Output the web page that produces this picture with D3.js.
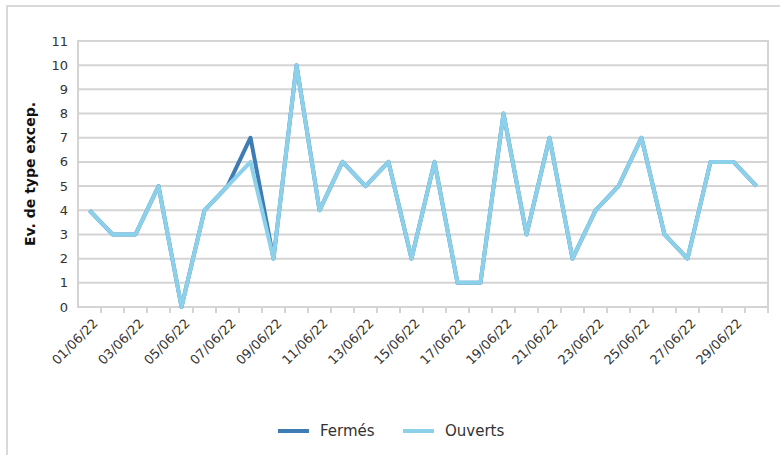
<!DOCTYPE html>
<html>
  <head>
    <meta charset="utf-8">
    <title>Ev. de type excep.</title>
    <script src="https://d3js.org/d3.v7.min.js" charset="utf-8"></script>
    <style>
    body {
        margin: 0;
        background: white;
        font-family: "DejaVu Sans", sans-serif;
    }
    </style>
  </head>

  <body>
    <script>
// data
var dates = ["01/06/22","02/06/22","03/06/22","04/06/22","05/06/22","06/06/22","07/06/22","08/06/22",
  "09/06/22","10/06/22","11/06/22","12/06/22","13/06/22","14/06/22","15/06/22","16/06/22","17/06/22",
  "18/06/22","19/06/22","20/06/22","21/06/22","22/06/22","23/06/22","24/06/22","25/06/22","26/06/22",
  "27/06/22","28/06/22","29/06/22","30/06/22"];
var fermes  = [4,3,3,5,0,4,5,7,2,10,4,6,5,6,2,6,1,1,8,3,7,2,4,5,7,3,2,6,6,5];
var ouverts = [4,3,3,5,0,4,5,6,2,10,4,6,5,6,2,6,1,1,8,3,7,2,4,5,7,3,2,6,6,5];
var yTicks = d3.range(0, 12);
var seriesNames = ["Fermés", "Ouverts"];
var seriesColors = ["#3f7cb3", "#8dd0ea"];

var width = 780;
var height = 455;
var margin = {top: 41, right: 12, bottom: 148, left: 78};

var svg = d3.select("body")
  .append("svg")
  .attr("width", width)
  .attr("height", height);

// outer frame (cut off at right and bottom)
svg.append("path")
  .attr("d", "M7,470 L7,6 L790,6")
  .attr("fill", "none")
  .attr("stroke", "#d9d9d9")
  .attr("stroke-width", 2);

var x = d3.scaleBand()
  .domain(dates)
  .range([margin.left, width - margin.right]);

var y = d3.scaleLinear()
  .domain([0, 11])
  .range([height - margin.bottom, margin.top]);

var g = svg.append("g");

// gridlines
g.selectAll("line.grid")
  .data(yTicks)
  .enter()
  .append("line")
  .attr("class", "grid")
  .attr("x1", margin.left)
  .attr("x2", width - margin.right)
  .attr("y1", d => y(d))
  .attr("y2", d => y(d))
  .attr("stroke", "#d4d4d4")
  .attr("stroke-width", 2);

// plot border
g.append("rect")
  .attr("x", margin.left)
  .attr("y", y(11))
  .attr("width", width - margin.right - margin.left)
  .attr("height", y(0) - y(11))
  .attr("fill", "none")
  .attr("stroke", "#d4d4d4")
  .attr("stroke-width", 2);

// x tick marks at band edges
var edges = dates.map(d => x(d)).concat([width - margin.right]);
g.selectAll("line.xtick")
  .data(edges.slice(1))
  .enter()
  .append("line")
  .attr("class", "xtick")
  .attr("x1", d => d)
  .attr("x2", d => d)
  .attr("y1", y(0))
  .attr("y2", y(0) + 6)
  .attr("stroke", "#d4d4d4")
  .attr("stroke-width", 2);

// y labels
g.selectAll("text.ylab")
  .data(yTicks)
  .enter()
  .append("text")
  .attr("class", "ylab")
  .attr("x", margin.left - 10)
  .attr("y", d => y(d))
  .attr("dy", "0.35em")
  .attr("text-anchor", "end")
  .attr("font-size", 13)
  .attr("fill", "#333")
  .text(d => d);

// x labels, every other day
g.selectAll("text.xlab")
  .data(dates.filter((d, i) => i % 2 === 0))
  .enter()
  .append("text")
  .attr("class", "xlab")
  .attr("transform", d => "translate(" + (x(d) + x.bandwidth() / 2 + 6) + "," + (y(0) + 14) + ") rotate(-45)")
  .attr("text-anchor", "end")
  .attr("dy", "0.35em")
  .attr("font-size", 13)
  .attr("fill", "#333")
  .text(d => d);

// y axis title
svg.append("text")
  .attr("transform", "translate(35," + ((y(0) + y(11)) / 2) + ") rotate(-90)")
  .attr("text-anchor", "middle")
  .attr("font-size", 14)
  .attr("font-weight", "bold")
  .attr("fill", "#111")
  .text("Ev. de type excep.");

// lines
var line = d3.line()
  .x((d, i) => x(dates[i]) + x.bandwidth() / 2)
  .y(d => y(d));

[fermes, ouverts].forEach(function(vals, k) {
  svg.append("path")
    .datum(vals)
    .attr("fill", "none")
    .attr("stroke", seriesColors[k])
    .attr("stroke-width", 4)
    .attr("stroke-linejoin", "round")
    .attr("d", line);
});

// legend
var legendX = [278, 403];
var legend = svg.selectAll("g.legend")
  .data(seriesNames)
  .enter()
  .append("g")
  .attr("class", "legend")
  .attr("transform", (d, i) => "translate(" + legendX[i] + ",431)");

legend.append("line")
  .attr("x1", 0)
  .attr("x2", 31)
  .attr("stroke", (d, i) => seriesColors[i])
  .attr("stroke-width", 4);

legend.append("text")
  .attr("x", 42)
  .attr("dy", "0.35em")
  .attr("font-size", 15)
  .attr("fill", "#333")
  .text(d => d);
    </script>
  </body>
</html>
